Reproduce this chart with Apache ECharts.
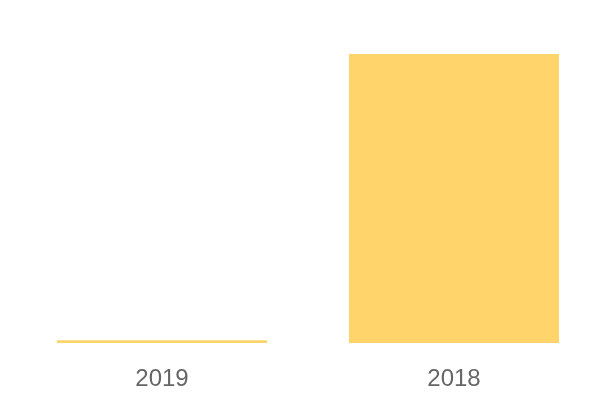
<!DOCTYPE html>
<html><head><meta charset="utf-8">
<script src="https://cdn.jsdelivr.net/npm/echarts@6/dist/echarts.min.js"></script>
<style>html,body{margin:0;padding:0;background:#fff}#c{width:600px;height:400px}</style>
</head><body><div id="c"></div>
<script>
const categories = ['2019', '2018'];
const values = [1.4, 144];

const chart = echarts.init(document.getElementById('c'));
chart.setOption({
  animation: false,
  grid: { left: 16, right: 0, top: 54, bottom: 57, containLabel: false },
  xAxis: {
    type: 'category', data: categories,
    axisLine: { show: false }, axisTick: { show: false },
    axisLabel: { color: '#666', fontSize: 24, margin: 24, fontFamily: 'Liberation Sans' }
  },
  yAxis: { type: 'value', min: 0, max: 'dataMax', show: false, splitLine: { show: false } },
  series: [{
    type: 'bar', data: values, barWidth: 210,
    itemStyle: { color: '#FFD56B' }
  }]
});
</script></body></html>
